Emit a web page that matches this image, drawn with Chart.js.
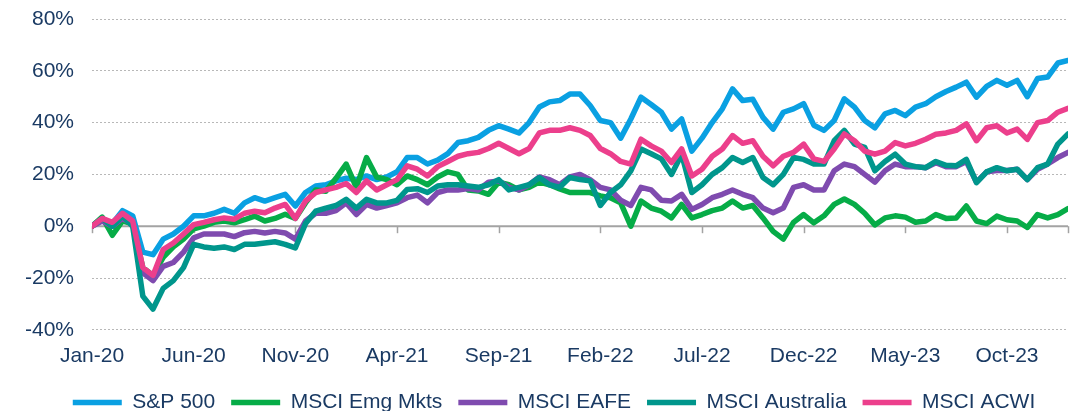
<!DOCTYPE html>
<html>
<head>
<meta charset="utf-8">
<script src="https://cdn.jsdelivr.net/npm/chart.js@4/dist/chart.umd.min.js"></script>
<style>
html,body{margin:0;padding:0;background:#ffffff;}
#wrap{width:1082px;height:411px;position:relative;}
</style>
</head>
<body>
<div id="wrap"><canvas id="c"></canvas></div>
<script>
// x positions are half-month steps from Jan-2020 (0) to end of Dec-2023 (96)
const tickLabels = ['Jan-20','Jun-20','Nov-20','Apr-21','Sep-21','Feb-22','Jul-22','Dec-22','May-23','Oct-23'];
const seriesNames = ['S&P 500','MSCI Emg Mkts','MSCI EAFE','MSCI Australia','MSCI ACWI'];
const seriesColors = ['#0AA0E2','#06AC47','#7F4BAF','#00968C','#EC3F8C'];

const sp500 = [0,3,1,6,4,-10,-11,-5,-3,0,4,4,5,6.5,5,9,11,9.7,11,12.3,7.8,13,15.5,16,17.5,18.5,18,19.4,18,19,21,26.5,26.5,24,25.5,28,32.3,33,34.3,37,38.8,37.5,36,40,46,48,48.5,51,51,46.6,40.8,40,34,41.4,49.8,47,44,37.5,41.4,29,34,40,45.3,53,48.5,49,42,37.5,44,45.3,47.3,39,37,40.8,49.2,46,40.8,38,43.4,44.7,42.7,46,47.3,50,52,53.7,55.6,49.8,54,56.3,54.4,56.3,50,57,57.6,63,64];
const emgMkts = [0,3.5,-3.5,2,1,-16,-19,-12,-8,-5,-1,0,1.5,2,1.3,2.5,3.9,2,3,4.6,3,9,14,13.5,18.5,24,15,26.5,19,18,16,19.4,18,16,19,21,20,14,13.6,12.3,17,16,14,15,17,16,14.4,13,13,13,11.7,11,9,0,9.7,7,5.8,3.2,8.4,3.2,4.5,6,7,9.7,7,8,3.2,-2,-5,1.5,4.5,1.3,4,8.4,10.5,8.4,5,0.5,3.2,4,3.5,1.5,2,4.5,3,3.2,7.8,2,1,3.9,2.5,2,-0.5,4.5,3.2,4.5,6.8];
const eafe = [0,2,0,3,1,-18,-21,-15.5,-14,-10,-4.5,-3,-3,-3,-4,-2.5,-2,-2.6,-2,-2.6,-5,2,5,5,6,9,4.5,8.4,7,8,9,11,12,9,13,14,14,14.5,14,17,17.5,15,14,16,19,18,16,19,20,18,15,14,10,8,15,14,10,9.7,12.3,6.5,8.4,11,12.3,14,12.3,11,7,5.2,7,15,16,14,14,21.4,24,23,20,17,21.4,24,23,23,22.6,24.5,23,23,25,17,21,21.5,21.5,22,18,22,24,26.5,28.5];
const australia = [0,3,0,4,0,-27,-32,-24,-21,-16,-7,-8,-8.5,-8,-9,-7,-7,-6.5,-6,-7,-8.4,1,5.8,7,8,10.4,7,10.4,9,9,10,14.2,14.5,13,15.5,16,16,15.5,15,16,18,14,15,16,18.8,16,15,18.8,18,17.5,8,13,16,21.4,29.8,28,26,20,27.8,13,16,20,22.6,26.5,24.6,26.5,18.8,16,20,26.5,25.8,24,24,33,37,31.7,30.4,21.4,25,27.8,24,23,22.6,25,23.5,23.3,25.8,16.8,21,22.6,21.4,22,18,22.6,24,31.7,35.6];
const acwi = [0,3,1.5,5,2,-16,-19,-9,-6.5,-3,0.6,1.5,2.5,3.2,2.7,5,5.8,5.2,7,8.4,3,9.7,13,14,15,16.5,13,17.5,14,16,18,23.3,22,19.4,23,25,27,28,28.5,30,32,30,28,30,36,37,37,38,37,35,30,28,25,24,33.6,31,29,24.6,29.8,19.4,22,27,29.8,35,32,33,27,23.3,27,28.5,31.7,26,25,29.8,35.6,33,29,27.8,29,32.3,31,32,33.6,35.5,36,37,39.5,33,38,38.8,36,37.5,33.5,40,40.8,44,45.5];

const allSeries = [sp500, emgMkts, eafe, australia, acwi];
const textColor = '#1A3A63';
const fontFamily = '"Liberation Sans", Arial, sans-serif';

const zeroLinePlugin = {
  id: 'zeroLine',
  afterLayout(chart) {
    if (chart.legend) { chart.legend.left += 14; }
  },
  beforeDatasetsDraw(chart) {
    const {ctx, chartArea, scales} = chart;
    const y0 = scales.y.getPixelForValue(0);
    ctx.save();
    ctx.strokeStyle = '#A3A3A3';
    ctx.lineWidth = 2;
    ctx.beginPath();
    ctx.moveTo(chartArea.left, y0);
    ctx.lineTo(chartArea.right, y0);
    ctx.stroke();
    ctx.lineWidth = 1.5;
    scales.x.ticks.forEach(t => {
      const px = Math.round(scales.x.getPixelForValue(t.value)) + 0.5;
      ctx.beginPath();
      ctx.moveTo(px, y0);
      ctx.lineTo(px, y0 + 7);
      ctx.stroke();
    });
    ctx.restore();
  }
};

const datasets = allSeries.map((s, k) => ({
  label: seriesNames[k],
  data: s.map((v, i) => ({x: i, y: v})),
  borderColor: seriesColors[k],
  backgroundColor: seriesColors[k],
  borderWidth: 5.5,
  borderCapStyle: 'round',
  borderJoinStyle: 'round',
  pointRadius: 0,
  tension: 0,
  fill: false,
  order: allSeries.length - k
}));

new Chart(document.getElementById('c'), {
  type: 'line',
  data: { datasets },
  plugins: [zeroLinePlugin],
  options: {
    responsive: true,
    maintainAspectRatio: false,
    animation: false,
    layout: { padding: { left: 26, right: 14, top: 19, bottom: -12 } },
    plugins: {
      tooltip: { enabled: false },
      legend: {
        position: 'bottom',
        align: 'center',
        labels: {
          usePointStyle: true,
          pointStyle: 'line',
          pointStyleWidth: 49,
          padding: 16,
          color: textColor,
          font: { family: fontFamily, size: 21 },
          sort: (a, b) => a.datasetIndex - b.datasetIndex
        }
      }
    },
    scales: {
      x: {
        type: 'linear',
        min: 0,
        max: 96,
        afterFit: (s) => { s.height = s.height - 7; },
        grid: { display: false, drawTicks: false },
        border: { display: false },
        ticks: {
          stepSize: 10,
          autoSkip: false,
          maxRotation: 0,
          padding: 14,
          color: textColor,
          font: { family: fontFamily, size: 21 },
          callback: (v) => tickLabels[v / 10] !== undefined ? tickLabels[v / 10] : ''
        }
      },
      y: {
        min: -40,
        max: 80,
        afterFit: (s) => { s.width = 66; s.paddingTop = 0; s.paddingBottom = 0; },
        grid: {
          color: (c) => c.tick && c.tick.value === 0 ? 'rgba(0,0,0,0)' : '#B8B8B8',
          lineWidth: 1,
          drawTicks: false
        },
        border: { display: false, dash: [2, 2] },
        ticks: {
          stepSize: 20,
          padding: 18,
          color: textColor,
          font: { family: fontFamily, size: 21 },
          callback: (v) => v + '%'
        }
      }
    }
  }
});
</script>
</body>
</html>
